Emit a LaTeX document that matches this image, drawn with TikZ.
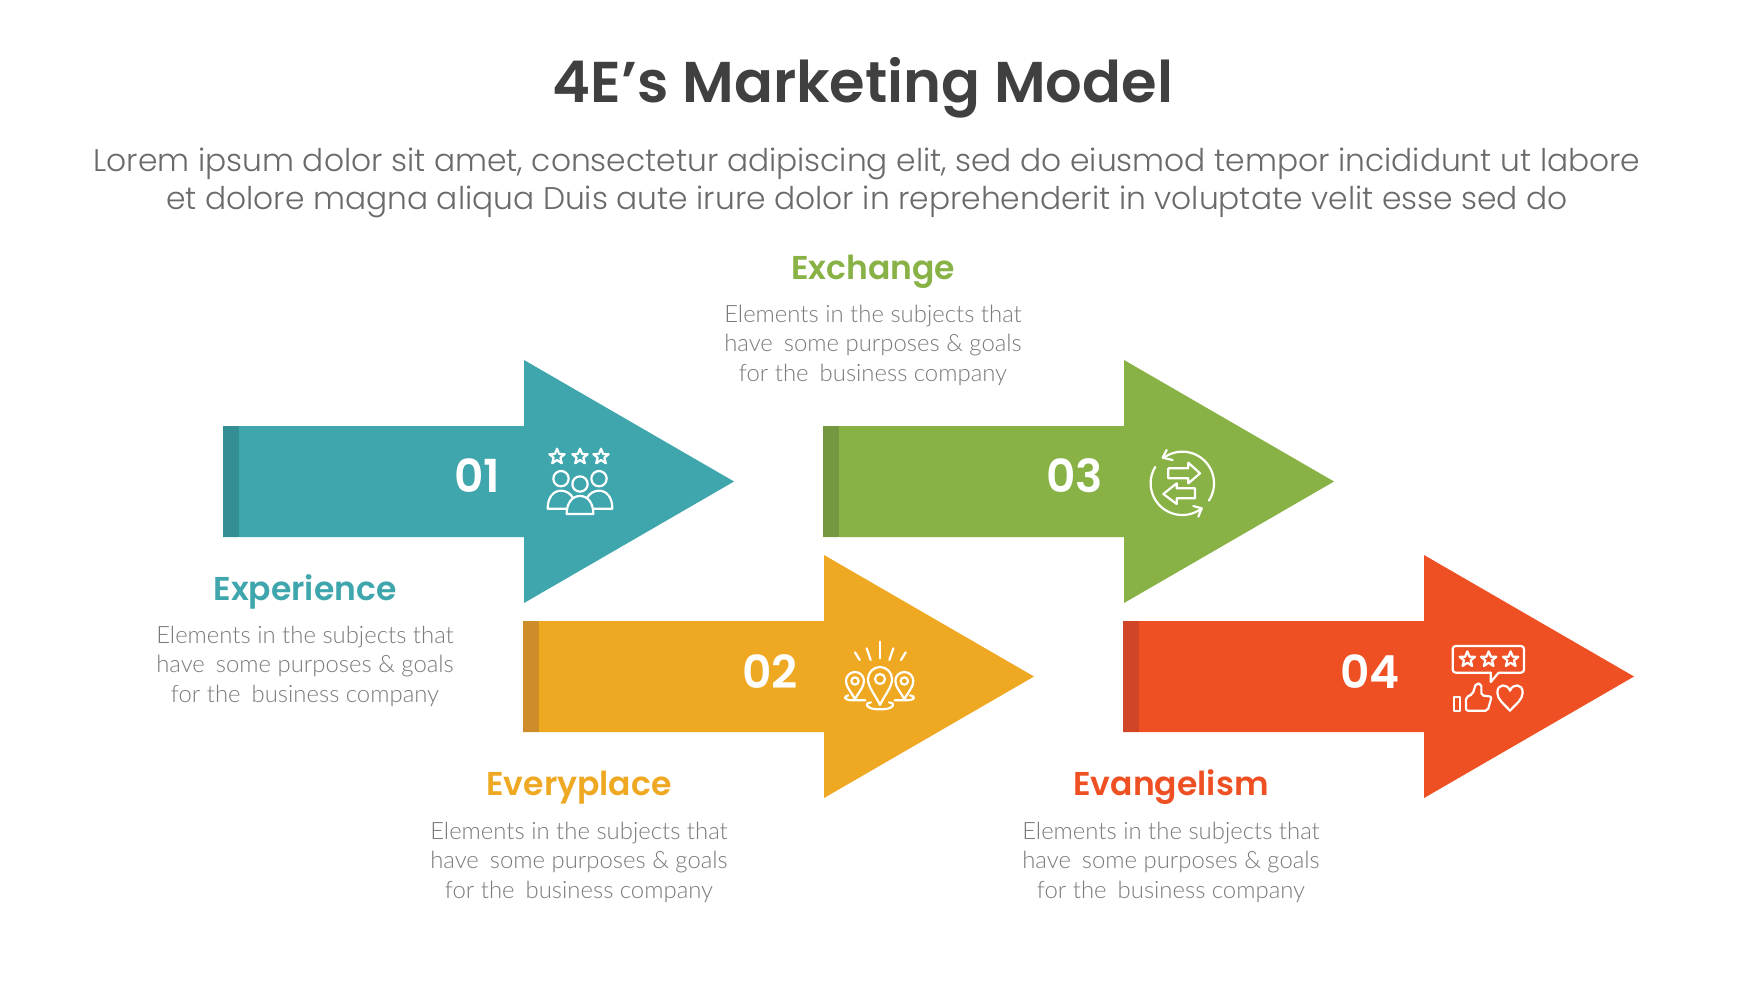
\documentclass[tikz,border=0pt]{standalone}
\usepackage{fontspec}
\setmainfont{Poppins}
\newfontfamily\descfont{Lato Light}
\newfontfamily\leadfont{Poppins Light}
\newfontfamily\headfont{Poppins SemiBold}
\definecolor{teal}{HTML}{3EA6AC}
\definecolor{tealD}{HTML}{338F93}
\definecolor{amber}{HTML}{EFA821}
\definecolor{amberD}{HTML}{CF8D2A}
\definecolor{leaf}{HTML}{88B245}
\definecolor{leafD}{HTML}{73983F}
\definecolor{flame}{HTML}{EF5023}
\definecolor{flameD}{HTML}{CF4526}
\definecolor{inkD}{HTML}{404040}
\definecolor{inkM}{HTML}{6A6A6A}
\definecolor{inkL}{HTML}{7A7A7A}
\tikzset{
  titletext/.style={anchor=base,inner sep=0,font=\headfont\fontsize{57.5}{60}\selectfont,text=inkD},
  leadtext/.style={anchor=base,inner sep=0,font=\leadfont\fontsize{31.3}{38}\selectfont,text=inkM},
  headtext/.style={anchor=base,inner sep=0,font=\headfont\fontsize{33}{36}\selectfont},
  desctext/.style={anchor=north,inner sep=0,align=center,font=\descfont\fontsize{23.9}{29.5}\selectfont,text=inkL},
  numtext/.style={anchor=base,inner sep=0,font=\headfont\fontsize{45.5}{48}\selectfont,text=white},
  iconline/.style={draw=white,line width=2.2pt,line cap=round,line join=round},
  iconzone/.style={x=0.33333pt,y=-0.33333pt},
}
\newcommand{\bigarrow}[4]{%
  \fill[#3] (#1,#2-55.5) -- (#1+301,#2-55.5) -- (#1+301,#2-121.5) -- (#1+511,#2) -- (#1+301,#2+121.5) -- (#1+301,#2+55.5) -- (#1,#2+55.5) -- cycle;
  \fill[#4] (#1,#2-55.5) rectangle (#1+16,#2+55.5);
}
\newcommand{\descbody}{Elements in the subjects that\\have\hspace{11pt}some purposes \& goals\\for the\hspace{11pt}business company}
% zoom coordinates below have y growing downward
\newcommand{\starshape}[2]{%
  \draw[iconline] (#1,#2-24) -- (#1+6.5,#2-8) -- (#1+23,#2-7.5) -- (#1+10,#2+3) -- (#1+14.5,#2+20) -- (#1,#2+10) -- (#1-14.5,#2+20) -- (#1-10,#2+3) -- (#1-23,#2-7.5) -- (#1-6.5,#2-8) -- cycle;
}
\newcommand{\pinshape}[5]{% x, y, radius, tip distance, inner radius
  \draw[iconline] (#1,#2+#4) .. controls (#1-#3*0.4,#2+#4*0.6) and (#1-#3,#2+#3*0.7) .. (#1-#3,#2)
    .. controls (#1-#3,#2-#3*0.55) and (#1-#3*0.55,#2-#3) .. (#1,#2-#3)
    .. controls (#1+#3*0.55,#2-#3) and (#1+#3,#2-#3*0.55) .. (#1+#3,#2)
    .. controls (#1+#3,#2+#3*0.7) and (#1+#3*0.4,#2+#4*0.6) .. cycle;
  \draw[iconline] (#1,#2) circle[radius=#5];
}
\begin{document}
\begin{tikzpicture}[x=1pt,y=-1pt]
\useasboundingbox (0,0) rectangle (1742,980);
\fill[white] (0,0) rectangle (1742,980);
\node[titletext] (title) at (863,102.5) {4E’s Marketing Model};
\node[leadtext] (lead1) at (867,171.5) {Lorem ipsum dolor sit amet, consectetur adipiscing elit, sed do eiusmod tempor incididunt ut labore};
\node[leadtext] (lead2) at (867,209.5) {et dolore magna aliqua Duis aute irure dolor in reprehenderit in voluptate velit esse sed do};

\bigarrow{223}{481.5}{teal}{tealD}
\bigarrow{823}{481.5}{leaf}{leafD}
\bigarrow{523}{676.5}{amber}{amberD}
\bigarrow{1123}{676.5}{flame}{flameD}

\node[numtext] (n1) at (477,492) {01};
\node[numtext] (n2) at (770,688) {02};
\node[numtext] (n3) at (1074.5,492) {03};
\node[numtext] (n4) at (1370,688) {04};

\node[headtext,text=leaf] (h3) at (873,279) {Exchange};
\node[headtext,text=teal] (h1) at (305,600) {Experience};
\node[headtext,text=amber] (h2) at (579,795.5) {Everyplace};
\node[headtext,text=flame] (h4) at (1171,795.5) {Evangelism};

\node[desctext] (d3) at (873,304.5) {\descbody};
\node[desctext] (d1) at (305,625.5) {\descbody};
\node[desctext] (d2) at (579,821.5) {\descbody};
\node[desctext] (d4) at (1171,821.5) {\descbody};

% icon 1: stars over three people
\begin{scope}[shift={(430,420)},iconzone]
\starshape{381}{110}\starshape{450}{110}\starshape{513}{110}
\draw[iconline] (393,176) circle[radius=23];
\draw[iconline] (450,192) circle[radius=23];
\draw[iconline] (507,176) circle[radius=23];
\draw[iconline] (410,266) -- (353,266) .. controls (353,232) and (370,212) .. (393,212) .. controls (408,212) and (420,220) .. (428,232);
\draw[iconline] (490,266) -- (547,266) .. controls (547,232) and (530,212) .. (507,212) .. controls (492,212) and (480,220) .. (472,232);
\draw[iconline] (410,282) .. controls (410,248) and (427,228) .. (450,228) .. controls (473,228) and (490,248) .. (490,282) -- cycle;
\end{scope}

% icon 3: exchange
\begin{scope}[shift={(1020,420)},iconzone]
\draw[iconline] plot[domain=-126:33,samples=40,smooth] ({487+95*cos(\x)},{190+95*sin(\x)});
\draw[iconline] plot[domain=211:52,samples=40,smooth] ({487+95*cos(\x)},{190+95*sin(\x)});
\draw[iconline] (440,90) -- (428,113) -- (458,120);
\draw[iconline] (520,258) -- (545,265) -- (535,290);
\draw[iconline] (445,145) -- (505,145) -- (505,128) -- (540,160) -- (505,190) -- (505,175) -- (445,175) -- cycle;
\draw[iconline] (525,205) -- (470,205) -- (470,190) -- (430,222) -- (470,252) -- (470,235) -- (525,235) -- cycle;
\end{scope}

% icon 2: pins
\begin{scope}[shift={(720,620)},iconzone]
\draw[iconline] (480,65) -- (480,115);
\draw[iconline] (440,85) -- (452,120);
\draw[iconline] (520,85) -- (508,120);
\draw[iconline] (405,97) -- (419,120);
\draw[iconline] (557,97) -- (543,120);
\draw[iconline] (442,250) .. controls (436,262) and (455,268) .. (480,268) .. controls (505,268) and (524,262) .. (518,250);
\draw[iconline] (453,247) -- (442,250);
\draw[iconline] (507,247) -- (518,250);
\draw[iconline] (385,226) .. controls (368,230) and (372,241) .. (400,241) -- (436,241);
\draw[iconline] (570,226) .. controls (590,230) and (585,241) .. (555,241) -- (524,241);
\pinshape{405}{183}{27}{55}{11}
\pinshape{553}{183}{27}{55}{11}
\pinshape{480}{177}{36}{78}{15}
\end{scope}

% icon 4: rating
\begin{scope}[shift={(1320,620)},iconzone]
\draw[iconline,rounded corners=3pt] (512,158) -- (398,158) -- (398,78) -- (612,78) -- (612,158) -- (536,158);
\draw[iconline] (512,158) -- (512,186) -- (536,158);
\starshape{442}{118}\starshape{506}{118}\starshape{572}{118}
\draw[iconline] (402,230) rectangle (421,272);
\draw[iconline,rounded corners=2pt] (438,272) -- (438,232) -- (458,222) -- (468,190) -- (484,192) -- (484,226) -- (515,230) -- (503,272) -- cycle;
\draw[iconline] (570,272) .. controls (550,250) and (532,238) .. (532,218) .. controls (532,190) and (562,190) .. (570,212) .. controls (578,190) and (608,190) .. (608,218) .. controls (608,238) and (590,250) .. (570,272) -- cycle;
\end{scope}
\end{tikzpicture}
\end{document}
